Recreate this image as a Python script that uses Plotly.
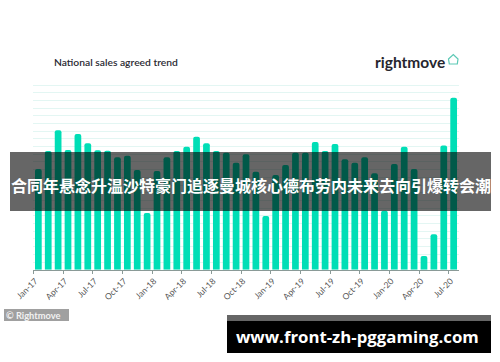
import plotly.graph_objects as go

W, H = 500, 362
months = ["Jan", "Feb", "Mar", "Apr", "May", "Jun", "Jul", "Aug", "Sep", "Oct", "Nov", "Dec"]
categories = [f"{months[i % 12]}-{17 + i // 12}" for i in range(43)]
values = [13.08, 15.42, 18.11, 15.55, 17.63, 16.42, 15.51, 15.46, 14.6, 14.81, 12.95, 7.37,
          12.82, 14.6, 15.42, 15.98, 17.28, 16.42, 15.42, 15.2, 13.9, 15.0, 12.73, 6.98,
          12.3, 13.6, 15.2, 15.2, 16.59, 15.42, 16.33, 14.35, 13.9, 14.6, 12.53, 7.67,
          13.73, 15.98, 13.08, 1.78, 4.6, 16.14, 22.35]
tick_positions = list(range(0, 43, 3))
tick_labels = [categories[i] for i in tick_positions]
headline = "合同年悬念升温沙特豪门追逐曼城核心德布劳内未来去向引爆转会潮"
site = "www.front-zh-pggaming.com"


def px(x):
    return x / W


def py(y):
    return 1 - y / H


def rect(x0, y0, x1, y1, color):
    return dict(type="rect", xref="paper", yref="paper", x0=px(x0), x1=px(x1),
                y0=py(y1), y1=py(y0), fillcolor=color, line_width=0, layer="above")


def label(text, x, y, size, color, anchor="left", family="Lato", weight="normal"):
    return dict(text=text, xref="paper", yref="paper", x=px(x), y=py(y), showarrow=False,
                xanchor=anchor, yanchor="middle", borderpad=0,
                font=dict(size=size, color=color, family=family, weight=weight))


house = [(448.5, 59), (453.3, 54.5), (458, 59), (457.3, 64), (449.3, 64)]
house_path = "M " + " L ".join(f"{px(a):.4f},{py(b):.4f}" for a, b in house) + " Z"

fig = go.Figure(go.Bar(x=list(range(43)), y=values, customdata=categories,
                       marker=dict(color="#00DEB6", cornerradius=2, line_width=0)))
fig.update_layout(
    width=W, height=H, margin=dict(l=0, r=0, t=0, b=0, pad=0, autoexpand=False), showlegend=False,
    paper_bgcolor="white", plot_bgcolor="white", bargap=0.32,
    xaxis=dict(domain=[px(33.4), px(458.6)], range=[-0.5, 42.5], tickmode="array", automargin=False,
               tickvals=tick_positions, ticktext=tick_labels, tickangle=-45, ticks="",
               ticklabelshift=-3, ticklabelstandoff=2,
               showgrid=False, zeroline=False, showline=True, linecolor="#8a9a97", linewidth=1,
               tickfont=dict(size=8.5, color="#555555", family="Lato"),
               minor=dict(tickmode="array", tickvals=[i - 0.5 for i in tick_positions],
                          ticks="outside", ticklen=3, tickcolor="#8a9a97", showgrid=False)),
    yaxis=dict(domain=[py(269.7), py(77.3)], range=[0, 25], dtick=1, showticklabels=False, automargin=False,
               gridcolor="#e3f6f3", gridwidth=1, zeroline=False, ticks=""),
    shapes=[
        rect(10, 152, 491, 211, "rgba(0,0,0,0.6)"),
        rect(227, 315, 491, 321, "#666666"),
        rect(227, 321, 491, 353, "#000000"),
        rect(4, 309, 69, 321, "#a0a0a0"),
        dict(type="path", xref="paper", yref="paper", path=house_path,
             line=dict(color="#5cc9b5", width=1.2), fillcolor="rgba(0,0,0,0)"),
    ],
    annotations=[
        label("National sales agreed trend", 52.5, 62, 10.3, "#2b2b33", weight=600),
        label("rightmove", 374, 61.5, 15.5, "#26262e", weight="bold"),
        label(headline, 250.5, 184.5, 16, "white", "center", "Noto Sans CJK SC", "bold"),
        label(site, 357.5, 336, 16.8, "white", "center", "Open Sans", "bold"),
        label("© Rightmove", 5, 315.3, 9.3, "#f2f2f2", weight="bold"),
    ],
)
fig.write_html("out.html", post_script="document.body.style.margin='0';", config=dict(displayModeBar=False))
